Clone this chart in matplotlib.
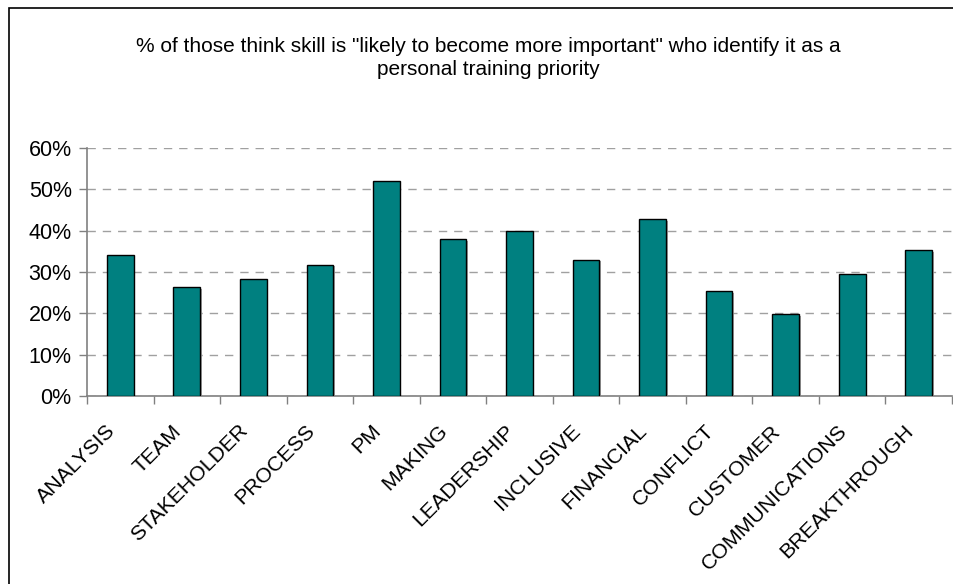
import matplotlib
matplotlib.use("Agg")
import matplotlib.pyplot as plt
import matplotlib.patheffects as pe
import matplotlib.transforms as mtransforms
from matplotlib.patches import Rectangle
from matplotlib.ticker import FuncFormatter, FixedLocator, MultipleLocator
import numpy as np

plt.rcParams['font.family'] = ['Liberation Sans', 'DejaVu Sans']

categories = ["ANALYSIS", "TEAM", "STAKEHOLDER", "PROCESS", "PM", "MAKING",
              "LEADERSHIP", "INCLUSIVE", "FINANCIAL", "CONFLICT", "CUSTOMER",
              "COMMUNICATIONS", "BREAKTHROUGH"]
values = [34.2, 26.3, 28.4, 31.8, 51.9, 37.9, 39.8, 33.0, 42.8, 25.3, 19.8, 29.6, 35.3]
title = ('% of those think skill is "likely to become more important" who identify it as a\n'
         'personal training priority')

W, H = 954, 584
fig = plt.figure(figsize=(W / 100, H / 100), dpi=100)
fig.patch.set_facecolor("white")

# outer chart frame
fig.patches.append(Rectangle((9 / W, -0.05), 1.2, (H - 8) / H + 0.05,
                             transform=fig.transFigure, fill=False,
                             edgecolor="black", linewidth=1.2, zorder=0))

ax = fig.add_axes([87 / W, (H - 396) / H, (952 - 87) / W, (396 - 148) / H])

x = np.arange(len(categories))
bars = ax.bar(x, values, width=0.4, color="#008080", edgecolor="black",
              linewidth=1.0, zorder=3)
for b in bars:
    b.set_path_effects([pe.SimplePatchShadow(offset=(1.2, -1.2), shadow_rgbFace="#9a9a9a", alpha=0.9),
                        pe.Normal()])

ax.set_xlim(-0.5, len(categories) - 0.5)
ax.set_ylim(0, 60)
ax.yaxis.set_major_locator(MultipleLocator(10))
ax.yaxis.set_major_formatter(FuncFormatter(lambda v, p: f"{int(v)}%"))
ax.yaxis.grid(True, linestyle=(0, (6, 5)), color="#a0a0a0", linewidth=1.0, zorder=0)
ax.set_axisbelow(True)

ax.set_xticks(x)
ax.set_xticklabels(categories, rotation=45, ha="right", rotation_mode="anchor")
ax.xaxis.set_minor_locator(FixedLocator(np.arange(-0.5, len(categories), 1.0)))
ax.tick_params(axis="x", which="major", length=0, pad=16, labelsize=15.3)
ax.tick_params(axis="x", which="minor", length=6, color="#808080", width=1)
ax.tick_params(axis="y", length=6, color="#808080", width=1, labelsize=15.5, pad=5)

# nudge the slanted category labels so their ends sit left of each bar
shift = mtransforms.ScaledTranslation(-15 / 100, -3 / 100, fig.dpi_scale_trans)
for lbl in ax.get_xticklabels():
    lbl.set_transform(lbl.get_transform() + shift)

for s in ["top", "right"]:
    ax.spines[s].set_visible(False)
for s in ["left", "bottom"]:
    ax.spines[s].set_color("#808080")
    ax.spines[s].set_linewidth(1.2)

fig.text(488 / W, 1 - 58 / H, title, ha="center", va="center", fontsize=15,
         linespacing=1.32)

fig.savefig("out.png", dpi=100)
